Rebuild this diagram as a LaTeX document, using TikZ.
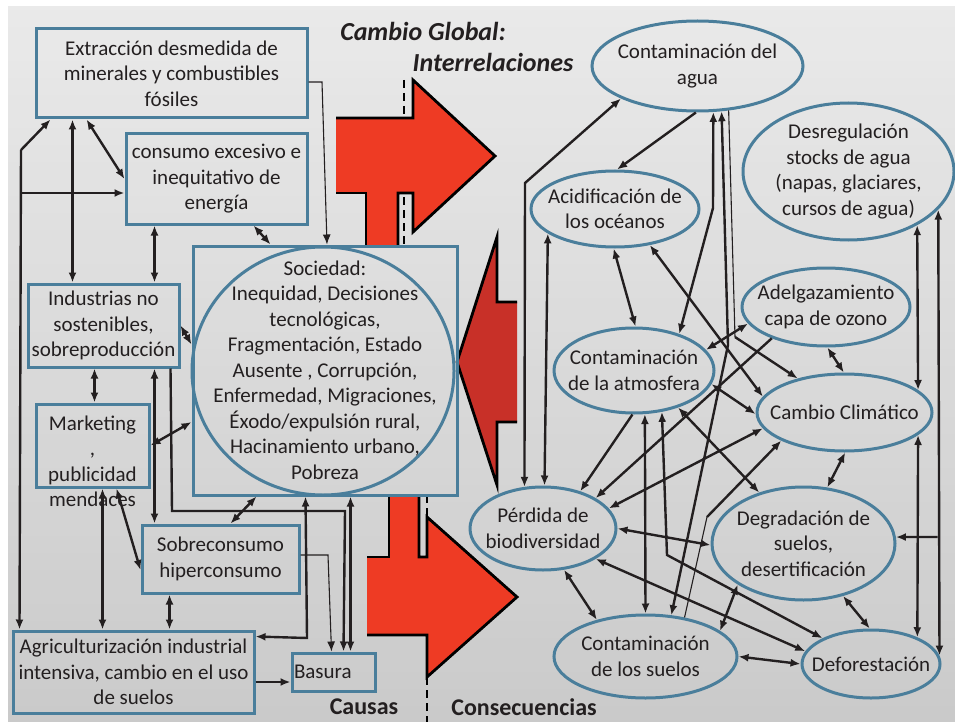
\documentclass[tikz,border=0pt]{standalone}
\usepackage{fontspec}
\setmainfont{Carlito}
\usepackage{xcolor}
\usepackage{tikz}
\usetikzlibrary{shapes.geometric, arrows.meta}
\definecolor{frame}{RGB}{74,126,155}
\definecolor{ink}{RGB}{35,31,32}
\definecolor{hotred}{RGB}{238,59,36}
\definecolor{darkred}{RGB}{200,48,40}
\tikzset{>={Latex[length=10pt,width=8pt]},
         every node/.style={text=ink, font=\fontsize{21}{25.5}\selectfont},
         box/.style={draw=frame, line width=3pt, inner sep=0pt, align=center},
         bubble/.style={ellipse, draw=frame, line width=3pt, inner sep=-40pt, align=center},
         link/.style={->, draw=ink, line width=2.4pt},
         twoway/.style={<->, draw=ink, line width=2.4pt},
         thinlink/.style={draw=ink, line width=1.1pt},
         arrowedge/.style={draw=black, line width=2.8pt},
         divider/.style={draw=black, line width=2.7pt, dash pattern=on 8pt off 5pt},
         heading/.style={font=\fontsize{26}{30}\selectfont\bfseries\itshape},
         footlabel/.style={font=\fontsize{24}{28}\selectfont\bfseries},
         }

\begin{document}
\begin{tikzpicture}[x=1pt, y=-1pt]
    \useasboundingbox (0,0) rectangle (955,722);
    \fill[white] (0,0) rectangle (955,722);
    \shade[top color=gray!5, bottom color=gray!38] (8,7) rectangle (955,722);
    \shade[left color=gray!50, middle color=white, right color=gray!50, opacity=0.25] (8,7) rectangle (955,722);

    \draw[divider] (404,80) -- (404,246);
    \draw[divider] (427,495) -- (427,722);

    % big arrows
    \fill[hotred] (336,118) -- (413,118) -- (413,80) -- (495,156) -- (413,232) -- (413,193) -- (398,193)
        -- (398,246) -- (366,246) -- (366,193) -- (336,193) -- cycle;
    \draw[arrowedge] (336,193) -- (366,193) -- (366,246);
    \draw[arrowedge] (398,246) -- (398,193) -- (413,193) -- (413,232) -- (495,156) -- (413,80) -- (413,118) -- (336,118);

    \fill[darkred] (517,302) -- (497,302) -- (497,237) -- (457,362) -- (497,485) -- (497,422) -- (517,422) -- cycle;
    \draw[arrowedge] (517,302) -- (497,302) -- (497,237) -- (457,362) -- (497,485) -- (497,422) -- (517,422);

    \fill[hotred] (389,495) -- (419,495) -- (419,557) -- (427,557) -- (427,517) -- (517,597) -- (427,677)
        -- (427,635) -- (367,635) -- (367,557) -- (389,557) -- cycle;
    \draw[arrowedge] (367,557) -- (389,557) -- (389,495);
    \draw[arrowedge] (419,495) -- (419,557) -- (427,557) -- (427,517) -- (517,597) -- (427,677) -- (427,635) -- (367,635);

    \node[heading] (title1) at (423,31) {Cambio Global:};
    \node[heading] (title2) at (493,62) {Interrelaciones};
    \node[footlabel] (causas) at (364,707) {Causas};
    \node[footlabel] (consec) at (524,707) {Consecuencias};

    % causas
    \node[box, minimum width=271pt, minimum height=89pt] (ext) at (171.5,73.5)
        {Extracción desmedida de\\minerales y combustibles\\fósiles};
    \node[box, minimum width=181pt, minimum height=90pt] (cons) at (216.5,179)
        {consumo excesivo e\\inequitativo de\\energía};
    \node[box, minimum width=151pt, minimum height=83pt] (ind) at (103.5,325.5)
        {Industrias no\\sostenibles,\\sobreproducción};
    \node[box, minimum width=113pt, minimum height=83pt] (mkt) at (92.5,445.5) {};
    \node[align=center] (mkttxt) at (92.5,461.5) {Marketing\\,\\publicidad\\mendaces};
    \node[box, minimum width=157pt, minimum height=68pt] (sob) at (220.5,559)
        {Sobreconsumo\\hiperconsumo};
    \node[box, minimum width=241pt, minimum height=82pt] (agri) at (133.5,672)
        {Agriculturización industrial\\intensiva, cambio en el uso\\de suelos};
    \node[box, minimum width=83pt, minimum height=38pt, text width=79pt, align=left] (bas) at (333.5,672) {Basura};
    \node[box, minimum width=264pt, minimum height=249pt] (soc) at (325,370.5) {};
    \node[bubble, minimum width=262pt, minimum height=248pt] (socc) at (323,371) {};
    \node[align=center] (soctxt) at (325,370)
        {Sociedad:\\Inequidad, Decisiones\\tecnológicas,\\Fragmentación, Estado\\Ausente , Corrupción,\\Enfermedad, Migraciones,\\Éxodo/expulsión rural,\\Hacinamiento urbano,\\Pobreza};

    % consecuencias
    \node[bubble, minimum width=211pt, minimum height=90pt] (agua) at (697.5,66) {Contaminación del\\agua};
    \node[bubble, minimum width=211pt, minimum height=137pt] (desr) at (848.5,171.5)
        {Desregulación\\stocks de agua\\(napas, glaciares,\\cursos de agua)};
    \node[bubble, minimum width=168pt, minimum height=76pt] (acid) at (615,209) {Acidificación de\\los océanos};
    \node[bubble, minimum width=168pt, minimum height=78pt] (adel) at (826,307) {Adelgazamiento\\capa de ozono};
    \node[bubble, minimum width=160pt, minimum height=85pt] (atm) at (634,370.5) {Contaminación\\de la atmosfera};
    \node[bubble, minimum width=175pt, minimum height=77pt] (cc) at (844.5,412.5) {Cambio Climático};
    \node[bubble, minimum width=146pt, minimum height=83pt] (perd) at (543,528.5) {Pérdida de\\biodiversidad};
    \node[bubble, minimum width=183pt, minimum height=113pt] (deg) at (803.5,543.5)
        {Degradación de\\suelos,\\desertificación};
    \node[bubble, minimum width=183pt, minimum height=83pt] (sue) at (645.5,656.5) {Contaminación\\de los suelos};
    \node[bubble, minimum width=138pt, minimum height=68pt] (def) at (871,664) {Deforestación};

    \coordinate (sp1) at (21,150);
    \coordinate (sp2) at (21,193);
    \coordinate (w1) at (735,337);
    \coordinate (w2) at (707,517);
    \coordinate (w3) at (937.5,537);

    \draw[thinlink, ->] ([yshift=-8.5pt]ext.east) -- (322,82) -- ([xshift=2pt]soc.north);
    \draw[twoway] ([xshift=52pt]ext.south west) -- (cons.west);
    \draw[link] (sp1) -- ([xshift=16pt]ext.south west);
    \draw[link] (sp1) -- ([xshift=8pt]agri.north west);
    \draw[link] (sp2) -- ([yshift=-14pt]cons.west);
    \draw[twoway] ([xshift=38pt]ext.south west) -- ([xshift=46pt]ind.north west);
    \draw[twoway] ([xshift=30pt]cons.south west) -- ([xshift=128pt]ind.north west);
    \draw[twoway] ([xshift=129pt]cons.south west) -- ([xshift=79pt]soc.north west);
    \draw[twoway] (ind.east) -- ([yshift=26pt]soc.west);
    \draw[twoway] ([xshift=68pt]ind.south west) -- ([xshift=60pt]mkt.north west);
    \draw[twoway] (mkt.east) -- ([yshift=-51.5pt]soc.west);
    \draw[twoway] ([xshift=128pt]ind.south west) -- ([xshift=14pt]sob.north west);
    \draw[link] ([xshift=144pt]ind.south west) -- (172,511) -- (345,511) -- ([xshift=53pt]bas.north west);
    \draw[twoway] ([xshift=68pt]mkt.south west) -- ([xshift=91pt]agri.north west);
    \draw[twoway] ([xshift=82pt]mkt.south west) -- ([yshift=-11pt]sob.west);
    \draw[twoway] ([xshift=90pt]sob.north west) -- ([xshift=65pt]soc.south west);
    \draw[twoway] ([xshift=29pt]sob.south west) -- ([xshift=158pt]agri.north west);
    \draw[thinlink, ->] ([yshift=4pt]sob.east) -- (328,555) -- ([xshift=41pt]bas.north west);
    \draw[twoway] ([xshift=114pt]soc.south west) -- (307,638) -- ([yshift=-7pt]agri.north east);
    \draw[twoway] ([xshift=159pt]soc.south west) -- ([xshift=60pt]bas.north west);
    \draw[link] ([yshift=-10pt]agri.east) -- ([yshift=-10pt]bas.west);

    \draw[twoway] (agua.203) -- (525,183) -- (perd.114);
    \draw[link] (agua.268) -- (acid.87);
    \draw[twoway] (acid.200) -- (perd.88);
    \draw[twoway] (acid.268) -- (atm.88);
    \draw[twoway] (acid.314) -- (cc.169);
    \draw[twoway] (agua.289) -- (713,208) -- (atm.39);
    \draw[twoway] (agua.298) -- (728,345) -- (sue.58);
    \draw[thinlink] (agua.305) -- (w1);
    \draw[link] (w1) -- (cc.144);
    \draw[twoway] (adel.192) -- (atm.16);
    \draw[link] (adel.210) -- (perd.30);
    \draw[twoway] (perd.17) -- (cc.191);
    \draw[link] (atm.268) -- (perd.45);
    \draw[twoway] (atm.350) -- (cc.181);
    \draw[twoway] (adel.272) -- (cc.91);
    \draw[twoway] (atm.320) -- (deg.131);
    \draw[twoway] (atm.284) -- (sue.90);
    \draw[twoway] (atm.304) -- (667,555) -- (def.152);
    \draw[twoway] (perd.330) -- (def.169);
    \draw[twoway] (perd.0) -- (deg.181);
    \draw[twoway] (perd.297) -- (sue.143);
    \draw[twoway] (deg.212) -- (sue.19);
    \draw[twoway] (sue.0) -- (def.180);
    \draw[twoway] (deg.307) -- (def.92);
    \draw[twoway] (cc.271) -- (deg.67);
    \draw[twoway] (desr.322) -- (cc.17);
    \draw[twoway] (cc.343) -- (def.30);
    \draw[twoway] (desr.337) -- (def.7);
    \draw[link] (w3) -- (deg.4);
    \draw[thinlink] (sue.45) -- (w2);
    \draw[link] (w2) -- (cc.204);
\end{tikzpicture}
\end{document}
